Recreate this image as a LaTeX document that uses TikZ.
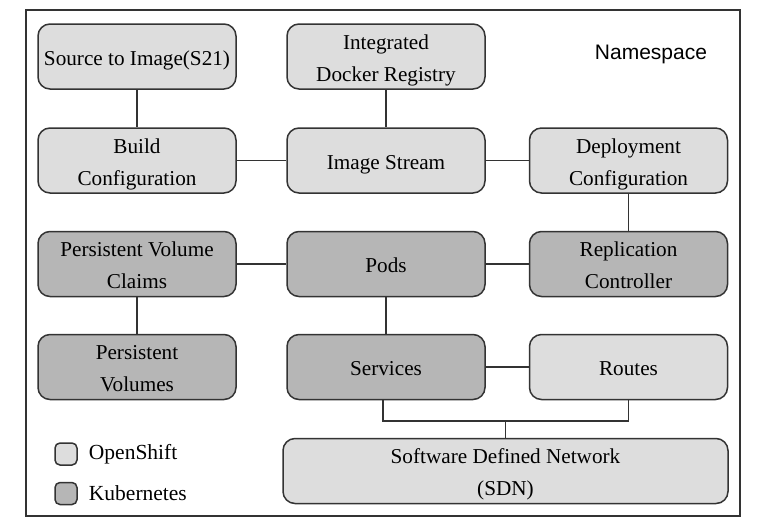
\documentclass[tikz,border=0pt]{standalone}
\usepackage{fontspec}
\setmainfont{Liberation Serif}
\newfontfamily\nsfont{Liberation Sans}
\usepackage{tikz}
\usetikzlibrary{positioning}
\definecolor{OSGray}{RGB}{221,221,221}
\definecolor{KuGray}{RGB}{182,182,182}
\definecolor{LineGray}{RGB}{51,51,51}

\begin{document}
\begin{tikzpicture}[x=1pt,y=-1pt,
    box/.style={draw=LineGray, line width=1.5pt, rounded corners=12pt, align=center,
        minimum width=198pt, minimum height=65pt, inner sep=0pt,
        font=\fontsize{21.2}{32}\selectfont, text height=21pt, text depth=4pt},
    twoline/.style={text height=54pt, text depth=5pt},
    osbox/.style={box, fill=OSGray},
    kubox/.style={box, fill=KuGray},
    key/.style={draw=LineGray, line width=1.5pt, rounded corners=5pt,
        minimum size=22pt, inner sep=0pt},
    link/.style={draw=LineGray, line width=1.6pt}]
    \useasboundingbox (0,0) rectangle (763,531);
    %%Frame
    \draw[LineGray, line width=1.5pt] (26,10) rectangle (740,516);
    \node[font=\nsfont\fontsize{21}{24}\selectfont] (ns) at (651,54) {Namespace};
    %%Boxes
    \node[osbox] (s2i) at (137,56.5) {Source to Image(S21)};
    \node[osbox, twoline] (reg) at (386,56.5) {Integrated\\Docker Registry};
    \node[osbox, twoline] (build) at (137,160.5) {Build\\Configuration};
    \node[osbox] (stream) at (386,160.5) {Image Stream};
    \node[osbox, twoline] (deploy) at (628.5,160.5) {Deployment\\Configuration};
    \node[kubox, twoline] (pvc) at (137,264) {Persistent Volume\\Claims};
    \node[kubox] (pods) at (386,264) {Pods};
    \node[kubox, twoline] (rc) at (628.5,264) {Replication\\Controller};
    \node[kubox, twoline] (pv) at (137,367) {Persistent\\Volumes};
    \node[kubox] (svc) at (386,367) {Services};
    \node[osbox] (routes) at (628.5,367) {Routes};
    \node[osbox, twoline, minimum width=445pt] (sdn) at (505.5,471) {Software Defined Network\\(SDN)};
    %%Links
    \path[link] (s2i) -- (build);
    \path[link] (reg) -- (stream);
    \path[link] (build) -- (stream);
    \path[link] (stream) -- (deploy);
    \path[link] (deploy) -- (rc);
    \path[link] (pvc) -- (pods);
    \path[link] (pods) -- (rc);
    \path[link] (pvc) -- (pv);
    \path[link] (pods) -- (svc);
    \path[link] (svc) -- (routes);
    \path[link] ([xshift=-3pt]svc.south) -- ++(0,20.5) coordinate (bus) -| (routes.south);
    \path[link] (sdn.north) -- (sdn.north |- bus);
    %%Legend
    \node[key, fill=OSGray] (keyos) at (66,454) {};
    \node[key, fill=KuGray] (keyku) at (66,493.5) {};
    \node[right=11pt of keyos, font=\fontsize{21.5}{24}\selectfont, inner sep=0pt] (osname) {OpenShift};
    \node[right=11pt of keyku, font=\fontsize{21.5}{24}\selectfont, inner sep=0pt] (kuname) {Kubernetes};
\end{tikzpicture}
\end{document}
